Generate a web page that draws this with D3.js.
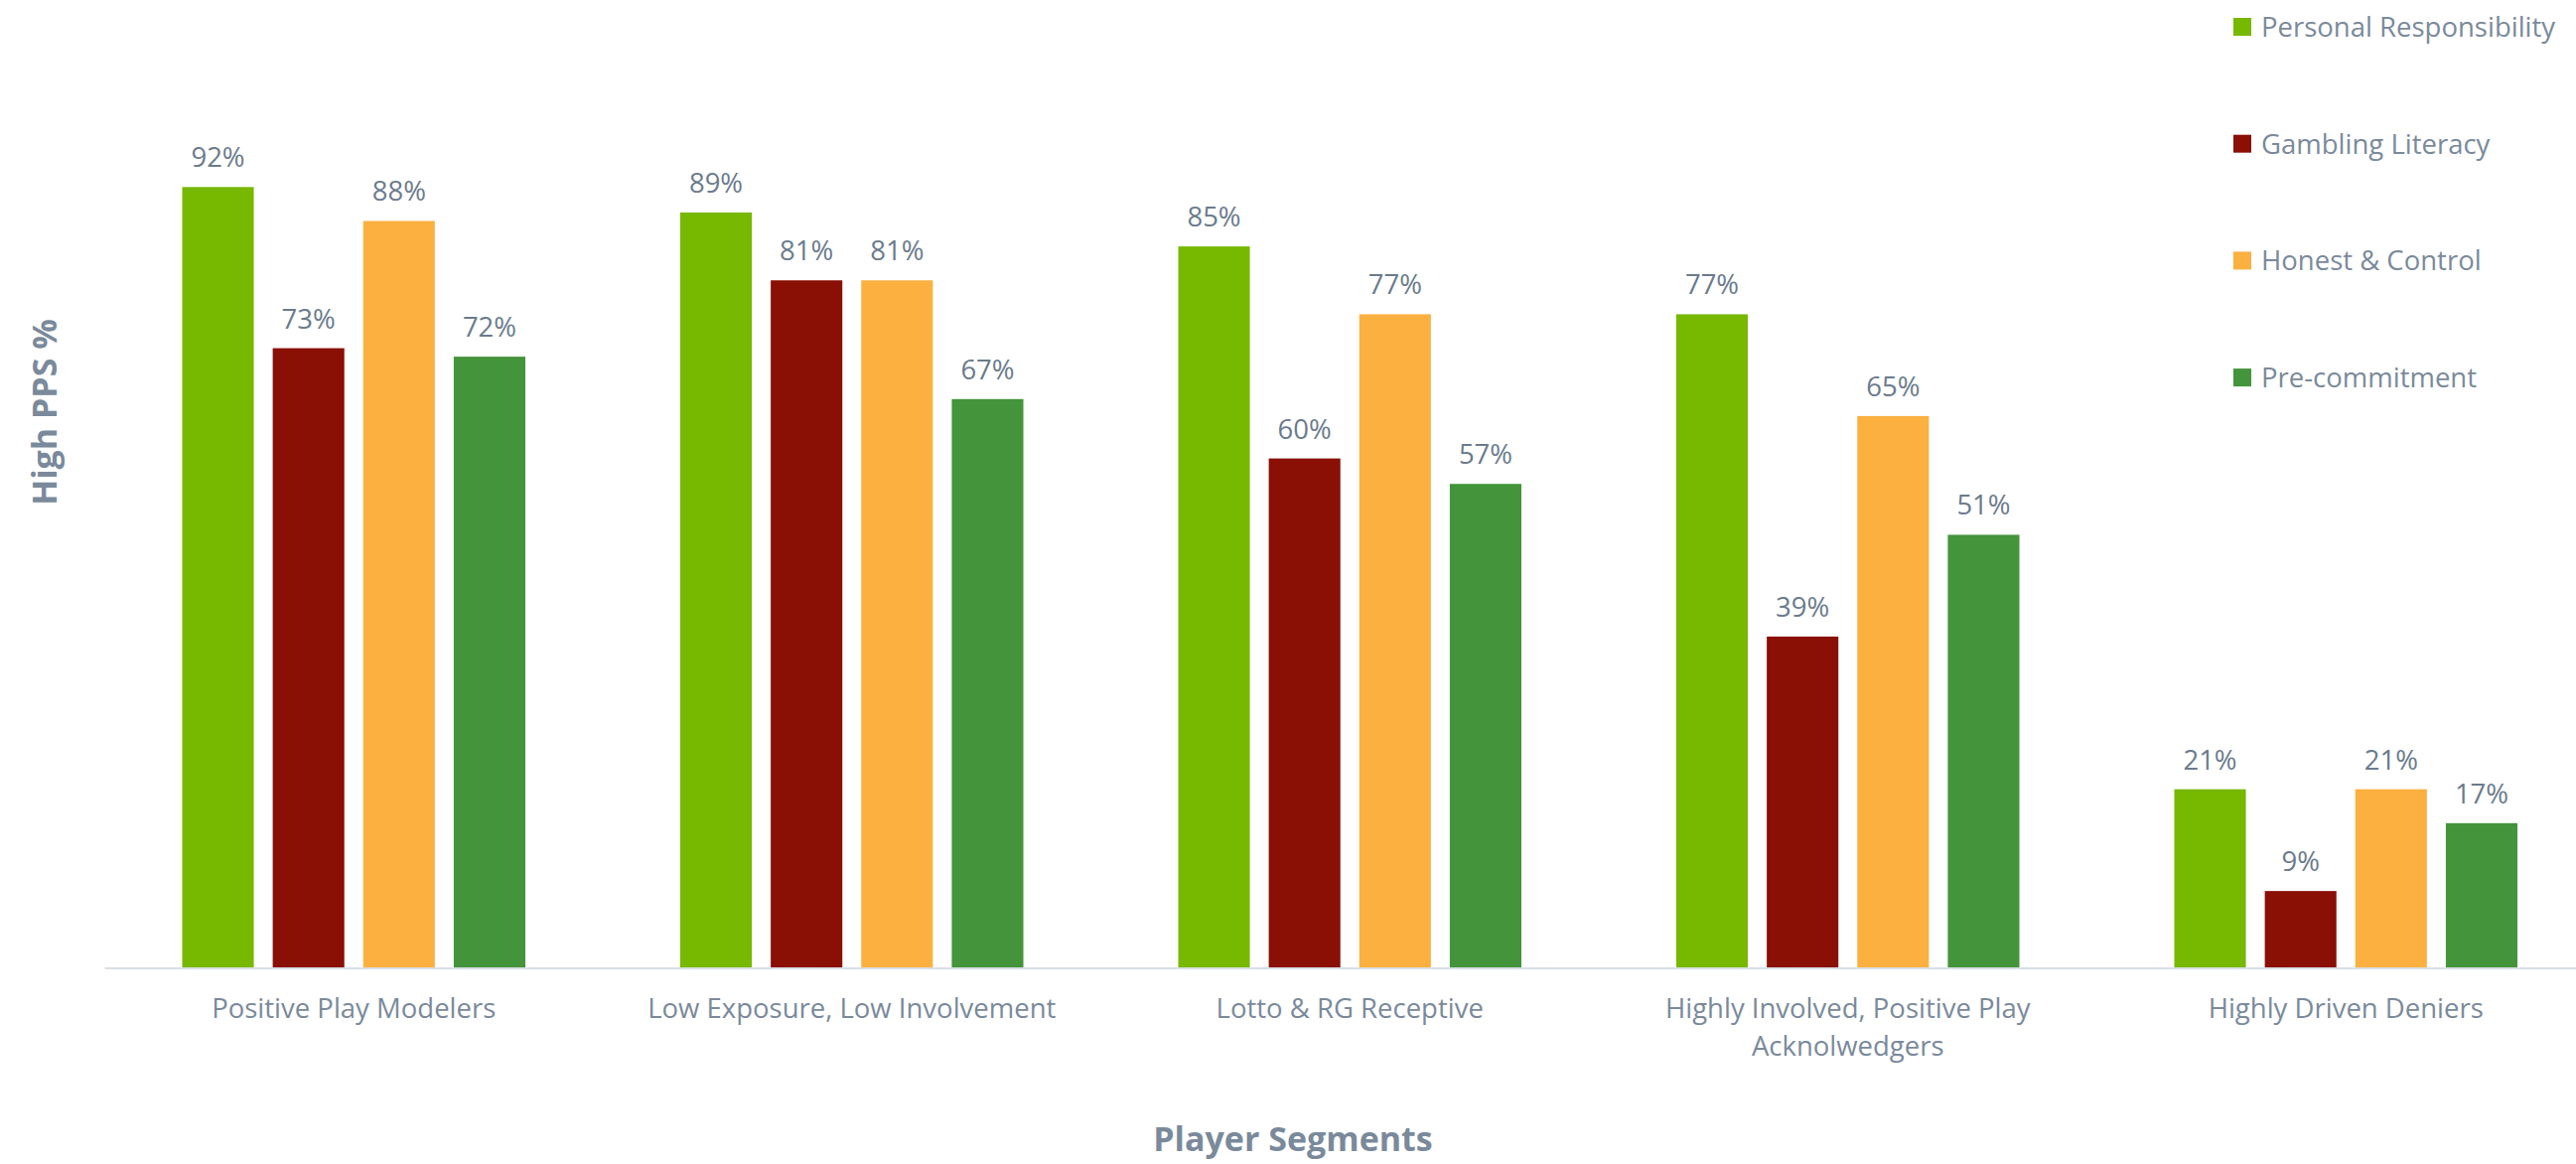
<!DOCTYPE html>
<html>
<head>
<meta charset="utf-8">
<script src="https://cdn.jsdelivr.net/npm/d3@7"></script>
<style>
	body { margin: 0; background: #ffffff; }
	svg { display: block; font-family: "Open Sans", sans-serif; }
</style>
</head>
<body>
<div id="chart"></div>
<script>
var segments = ["Positive Play Modelers", "Low Exposure, Low Involvement", "Lotto & RG Receptive", "Highly Involved, Positive Play Acknolwedgers", "Highly Driven Deniers"];
var segmentLines = [["Positive Play Modelers"], ["Low Exposure, Low Involvement"], ["Lotto & RG Receptive"], ["Highly Involved, Positive Play", "Acknolwedgers"], ["Highly Driven Deniers"]];
var seriesNames = ["Personal Responsibility", "Gambling Literacy", "Honest & Control", "Pre-commitment"];
var personalResponsibility = [92, 89, 85, 77, 21];
var gamblingLiteracy = [73, 81, 60, 39, 9];
var honestControl = [88, 81, 77, 65, 21];
var preCommitment = [72, 67, 57, 51, 17];
var colors = ["#77b800", "#8a0f05", "#fbb040", "#43943a"];

function BarChart(myDivId, width, height) {
	var svg = d3.select(myDivId).append("svg")
		.attr("width", width).attr("height", height);

	var seriesValues = [personalResponsibility, gamblingLiteracy, honestControl, preCommitment];
	var data = segments.map(function(seg, i) {
		return seriesNames.map(function(name, j) {
			return { segment: seg, series: name, value: seriesValues[j][i], color: colors[j] };
		});
	});

	// plot area
	var left = 105.5, right = 2613, baseline = 974, top = 120;

	var x0 = d3.scaleBand().domain(segments).range([left, right])
		.paddingInner(0.273).paddingOuter(0.1365);
	var x1 = d3.scaleBand().domain(seriesNames).range([0, x0.bandwidth()])
		.paddingInner(0.209).paddingOuter(0.1045);
	var y = d3.scaleLinear().domain([0, 100]).range([baseline, top]);

	var groups = svg.selectAll(".group")
		.data(data)
		.enter().append("g")
		.attr("class", "group")
		.attr("transform", function(d) { return "translate(" + x0(d[0].segment) + ",0)"; });

	groups.selectAll("rect")
		.data(function(d) { return d; })
		.enter().append("rect")
		.attr("x", function(d) { return x1(d.series); })
		.attr("y", function(d) { return y(d.value); })
		.attr("width", x1.bandwidth())
		.attr("height", function(d) { return baseline - y(d.value); })
		.attr("fill", function(d) { return d.color; });

	groups.selectAll(".val")
		.data(function(d) { return d; })
		.enter().append("text")
		.attr("class", "val")
		.attr("x", function(d) { return x1(d.series) + x1.bandwidth() / 2; })
		.attr("y", function(d) { return y(d.value) - 20; })
		.attr("text-anchor", "middle")
		.attr("font-size", "27.5px")
		.attr("fill", "#6b7b8c")
		.text(function(d) { return d.value + "%"; });

	// x axis line
	svg.append("line")
		.attr("x1", left).attr("x2", width)
		.attr("y1", baseline + 1).attr("y2", baseline + 1)
		.attr("stroke", "#d9dfe6").attr("stroke-width", 2);

	// category labels (some wrap onto two lines)
	var cat = svg.selectAll(".cat")
		.data(segments)
		.enter().append("text")
		.attr("class", "cat")
		.attr("text-anchor", "middle")
		.attr("font-size", "27.5px")
		.attr("fill", "#7a8a9b");
	cat.each(function(d, i) {
		var t = d3.select(this);
		segmentLines[i].forEach(function(line, k) {
			t.append("tspan")
				.attr("x", x0(d) + x0.bandwidth() / 2)
				.attr("y", 1025 + k * 38)
				.text(line);
		});
	});

	// axis titles
	svg.append("text")
		.attr("transform", "translate(57,415) rotate(-90)")
		.attr("text-anchor", "middle")
		.attr("font-size", "34px")
		.attr("font-weight", "bold")
		.attr("fill", "#7a8a9b")
		.text("High PPS %");

	svg.append("text")
		.attr("x", 1302).attr("y", 1159)
		.attr("text-anchor", "middle")
		.attr("font-size", "34px")
		.attr("font-weight", "bold")
		.attr("fill", "#7a8a9b")
		.text("Player Segments");

	// legend
	var legend = svg.selectAll(".legend")
		.data(seriesNames)
		.enter().append("g")
		.attr("class", "legend")
		.attr("transform", function(d, i) { return "translate(2249," + (27 + i * 117.7) + ")"; });
	legend.append("rect")
		.attr("x", 0).attr("y", -9)
		.attr("width", 18).attr("height", 18)
		.attr("fill", function(d, i) { return colors[i]; });
	legend.append("text")
		.attr("x", 28).attr("y", 10)
		.attr("font-size", "27.5px")
		.attr("fill", "#7a8a9b")
		.text(function(d) { return d; });
}

BarChart("#chart", 2594, 1172);
</script>
</body>
</html>
